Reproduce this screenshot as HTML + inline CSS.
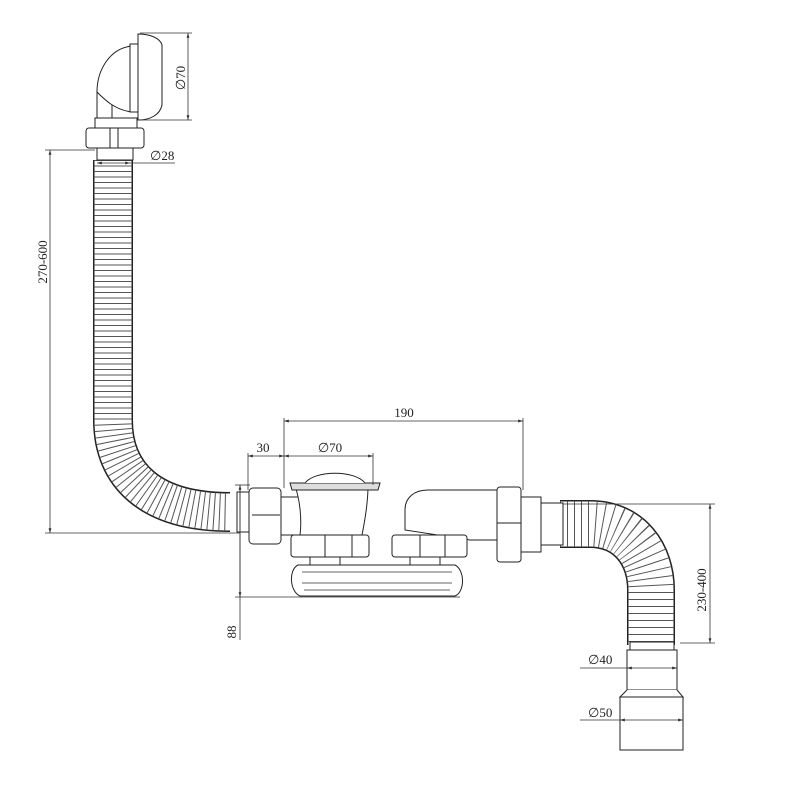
<!DOCTYPE html>
<html><head><style>html,body{margin:0;padding:0;background:#fff}svg{display:block}</style></head>
<body>
<svg width="800" height="800" viewBox="0 0 800 800" xmlns="http://www.w3.org/2000/svg" font-family="Liberation Serif, serif" font-size="13">
<defs>
<marker id="a" viewBox="0 0 10 10" refX="10" refY="5" markerWidth="8" markerHeight="6" orient="auto-start-reverse"><path d="M0,2 L10,5 L0,8z" fill="#333"/></marker>
</defs>
<g fill="none" stroke="#333" stroke-width="1">
<path d="M113,160 L113,420 C113,475 150,512 230,512" stroke="#222" stroke-width="40"/>
<path d="M113,160 L113,420 C113,475 150,512 230,512" stroke="#fff" stroke-width="37"/>
<path d="M113,160 L113,420 C113,475 150,512 230,512" stroke="#555" stroke-width="38" stroke-dasharray="1 4.5"/>
<path d="M560,524 L590,524 C630,524 651,555 651,590 L651,645" stroke="#222" stroke-width="48"/>
<path d="M560,524 L590,524 C630,524 651,555 651,590 L651,645" stroke="#fff" stroke-width="45"/>
<path d="M560,524 L590,524 C630,524 651,555 651,590 L651,645" stroke="#555" stroke-width="46" stroke-dasharray="1 6"/>
</g>
<g fill="#fff" stroke="#222" stroke-width="1">
<!-- top elbow -->
<path d="M97,128 L97,90 L112,90 L112,128 Z"/>
<path d="M97,92 C97,70 110,48 132,46 L132,112 C115,110 105,100 97,92 Z"/>
<rect x="130" y="44" width="8" height="68"/>
<path d="M138,34 C150,34 160,38 162,45 L162,105 C160,115 150,120 138,120 Z"/>
<rect x="95" y="118" width="42" height="10"/>
<rect x="86" y="128" width="58" height="20" rx="3"/>
<line x1="110" y1="128" x2="110" y2="148"/><line x1="118" y1="128" x2="118" y2="148"/>
<rect x="97" y="148" width="36" height="12"/>
<rect x="237" y="492" width="14" height="40"/>
<rect x="249" y="488" width="32" height="56" rx="4"/>
<line x1="252" y1="515" x2="280" y2="515"/>
<rect x="281" y="497" width="20" height="38"/>
<path d="M295,486 L368,486 C368,500 365,520 362,535 L300,535 C302,520 300,500 295,486 Z"/>
<path d="M290,483 L380,483 L378,490 L292,490 Z" fill="#ddd"/>
<path d="M305,483 C315,470 355,470 365,483" />
<rect x="291" y="535" width="78" height="22" rx="3"/>
<line x1="325" y1="535" x2="325" y2="557"/><line x1="352" y1="535" x2="352" y2="557"/>
<path d="M405,530 L405,510 C405,497 415,490 428,490 L498,490 L498,540 L470,540 Z"/>
<rect x="392" y="535" width="75" height="22" rx="3"/>
<line x1="420" y1="535" x2="420" y2="557"/><line x1="445" y1="535" x2="445" y2="557"/>
<rect x="497" y="487" width="24" height="75" rx="3"/>
<line x1="497" y1="523" x2="521" y2="523"/>
<rect x="521" y="497" width="20" height="55"/>
<rect x="541" y="503" width="22" height="42"/>
<rect x="310" y="557" width="30" height="10"/><rect x="410" y="557" width="30" height="10"/>
<path d="M298,565 L455,565 C465,570 465,592 455,596 L300,596 C290,592 288,570 298,565 Z"/>
<path d="M302,572 L452,572 M302,583 L452,583 M304,590 L450,590" stroke="#666"/>
<rect x="630" y="642" width="44" height="8"/>
<rect x="627" y="650" width="50" height="40"/>
<path d="M627,690 L620,697 L683,697 L677,690"/>
<rect x="620" y="697" width="63" height="53"/>
</g>
<g stroke="#333" stroke-width="0.8" fill="none">
<line x1="140" y1="33" x2="192" y2="33"/><line x1="140" y1="120" x2="192" y2="120"/>
<line x1="188" y1="33" x2="188" y2="120" marker-start="url(#a)" marker-end="url(#a)"/>
<line x1="45" y1="150" x2="95" y2="150"/>
<line x1="50" y1="150" x2="50" y2="533" marker-start="url(#a)" marker-end="url(#a)"/>
<line x1="45" y1="533" x2="240" y2="533"/>
<line x1="97" y1="163" x2="130" y2="163" marker-start="url(#a)" marker-end="url(#a)"/>
<line x1="130" y1="163" x2="175" y2="163"/>
<line x1="284" y1="418" x2="284" y2="488"/><line x1="523" y1="418" x2="523" y2="490"/>
<line x1="248" y1="453" x2="248" y2="490"/><line x1="373" y1="453" x2="373" y2="485"/>
<line x1="284" y1="421" x2="523" y2="421" marker-start="url(#a)" marker-end="url(#a)"/>
<line x1="248" y1="456" x2="284" y2="456" marker-start="url(#a)" marker-end="url(#a)"/>
<line x1="284" y1="456" x2="373" y2="456" marker-start="url(#a)" marker-end="url(#a)"/>
<line x1="240" y1="485" x2="240" y2="640"/>
<line x1="240" y1="485" x2="240" y2="597" marker-start="url(#a)" marker-end="url(#a)"/>
<line x1="235" y1="597" x2="460" y2="597"/>
<line x1="235" y1="485" x2="250" y2="485"/>
<line x1="563" y1="504" x2="715" y2="504"/><line x1="680" y1="643" x2="715" y2="643"/>
<line x1="710" y1="504" x2="710" y2="643" marker-start="url(#a)" marker-end="url(#a)"/>
<line x1="580" y1="668" x2="627" y2="668"/>
<line x1="627" y1="668" x2="677" y2="668" marker-start="url(#a)" marker-end="url(#a)"/>
<line x1="580" y1="720" x2="620" y2="720"/>
<line x1="620" y1="720" x2="683" y2="720" marker-start="url(#a)" marker-end="url(#a)"/>
</g>
<g fill="#222">
<text x="185" y="78" transform="rotate(-90 185 78)" text-anchor="middle">∅70</text>
<text x="150" y="160">∅28</text>
<text x="47" y="262" transform="rotate(-90 47 262)" text-anchor="middle">270-600</text>
<text x="404" y="417" text-anchor="middle">190</text>
<text x="263" y="452" text-anchor="middle">30</text>
<text x="330" y="452" text-anchor="middle">∅70</text>
<text x="236" y="632" transform="rotate(-90 236 632)" text-anchor="middle">88</text>
<text x="706" y="590" transform="rotate(-90 706 590)" text-anchor="middle">230-400</text>
<text x="588" y="664">∅40</text>
<text x="588" y="717">∅50</text>
</g>
</svg>
</body></html>
